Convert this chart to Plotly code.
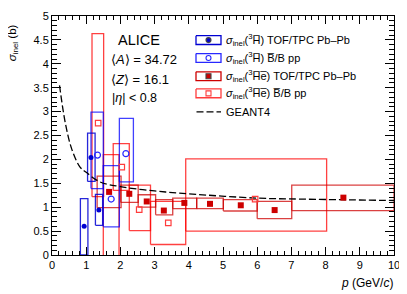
import plotly.graph_objects as go

# ---------------- data ----------------
# anti-3H, TOF/TPC Pb-Pb
h3_pbpb_p = [0.94, 1.14, 1.37]
h3_pbpb_sig = [0.60, 2.04, 0.94]
h3_pbpb_plo = [0.83, 1.04, 1.27]
h3_pbpb_phi = [1.05, 1.26, 1.48]
h3_pbpb_slo = [0.00, 1.54, 0.62]
h3_pbpb_shi = [1.18, 2.55, 1.27]

# anti-3H, Bbar/B pp
h3_pp_p = [1.33, 1.73, 2.16]
h3_pp_sig = [2.09, 1.17, 2.12]
h3_pp_plo = [1.14, 1.50, 1.97]
h3_pp_phi = [1.50, 1.97, 2.38]
h3_pp_slo = [1.39, 0.59, 1.53]
h3_pp_shi = [2.99, 1.87, 2.86]

# anti-3He, TOF/TPC Pb-Pb
he3_pbpb_p = [1.67, 2.26, 2.77, 3.27, 3.87, 4.62, 5.52, 6.51, 8.52]
he3_pbpb_sig = [1.32, 1.28, 1.12, 0.93, 1.09, 1.07, 1.04, 0.94, 1.20]
he3_pbpb_plo = [1.32, 2.01, 2.52, 3.03, 3.53, 4.23, 5.01, 6.00, 7.01]
he3_pbpb_phi = [2.02, 2.52, 3.03, 3.53, 4.23, 5.01, 6.00, 7.01, 10.0]
he3_pbpb_slo = [0.99, 1.10, 1.00, 0.84, 0.97, 0.97, 0.92, 0.76, 0.93]
he3_pbpb_shi = [1.65, 1.46, 1.26, 1.16, 1.19, 1.19, 1.16, 1.12, 1.46]

# anti-3He, Bbar/B pp
he3_pp_p = [1.35, 1.73, 2.04, 2.55, 3.40, 5.94]
he3_pp_sig = [2.76, -0.02, 1.84, 0.95, 0.67, 1.17]
he3_pp_plo = [1.17, 1.50, 1.79, 2.26, 2.88, 3.91]
he3_pp_phi = [1.51, 1.96, 2.26, 2.88, 3.91, 8.03]
he3_pp_slo = [1.22, -0.50, 1.35, 0.51, 0.22, 0.50]
he3_pp_shi = [4.63, 2.10, 2.33, 1.46, 1.12, 2.01]

# GEANT4 expectation
g4_p = [0.22, 0.39, 0.58, 0.82, 1.0, 1.4, 2.0, 3.0, 4.0, 6.0, 7.25, 10.0]
g4_sig = [3.55, 2.76, 2.21, 1.84, 1.73, 1.53, 1.43, 1.34, 1.28, 1.19, 1.17, 1.14]

x_ticks = [0, 1, 2, 3, 4, 5, 6, 7, 8, 9, 10]
y_ticks = [0, 0.5, 1, 1.5, 2, 2.5, 3, 3.5, 4, 4.5, 5]

# ---------------- styles ----------------
FONT = "Liberation Sans, Arial, Helvetica, sans-serif"
BLUE_D = "rgb(0,0,210)"
BLUE_L = "rgb(40,40,255)"
RED_D = "rgb(205,0,0)"
RED_L = "rgb(255,60,60)"
BOX_BLUE_D = "rgba(0,0,210,0.85)"
BOX_BLUE_L = "rgba(0,0,255,0.75)"
BOX_RED_D = "rgba(205,0,0,0.75)"
BOX_RED_L = "rgba(255,0,0,0.75)"

# plot frame in screen pixels (page body has an 8px margin)
PX_L, PX_R, PX_T, PX_B = 52, 394, 10, 255


def px(xs, ys):
    return (xs - PX_L) / (PX_R - PX_L), (PX_B - ys) / (PX_B - PX_T)


def rects(plo, phi, slo, shi):
    xs, ys = [], []
    for a, b, c, d in zip(plo, phi, slo, shi):
        xs += [a, b, b, a, a, None]
        ys += [c, c, d, d, c, None]
    return xs, ys


fig = go.Figure()


def add_boxes(plo, phi, slo, shi, color):
    xs, ys = rects(plo, phi, slo, shi)
    fig.add_trace(go.Scatter(x=xs, y=ys, mode="lines",
                             line=dict(color=color, width=1.3),
                             hoverinfo="skip", showlegend=False))


add_boxes(he3_pp_plo, he3_pp_phi, he3_pp_slo, he3_pp_shi, BOX_RED_L)
add_boxes(he3_pbpb_plo, he3_pbpb_phi, he3_pbpb_slo, he3_pbpb_shi, BOX_RED_D)
add_boxes(h3_pp_plo, h3_pp_phi, h3_pp_slo, h3_pp_shi, BOX_BLUE_L)
add_boxes(h3_pbpb_plo, h3_pbpb_phi, h3_pbpb_slo, h3_pbpb_shi, BOX_BLUE_D)

# GEANT4 curve
fig.add_trace(go.Scatter(x=g4_p, y=g4_sig, mode="lines",
                         line=dict(color="black", width=1.3, dash="7px,3px", shape="spline"),
                         showlegend=False))

# markers
fig.add_trace(go.Scatter(x=he3_pp_p, y=he3_pp_sig, mode="markers", cliponaxis=False,
                         marker=dict(symbol="square-open", size=5.5, color=RED_L, line=dict(width=1.2)),
                         showlegend=False))
fig.add_trace(go.Scatter(x=he3_pbpb_p, y=he3_pbpb_sig, mode="markers",
                         marker=dict(symbol="square", size=6, color=RED_D),
                         showlegend=False))
fig.add_trace(go.Scatter(x=h3_pp_p, y=h3_pp_sig, mode="markers",
                         marker=dict(symbol="circle-open", size=6, color=BLUE_L, line=dict(width=1.2)),
                         showlegend=False))
fig.add_trace(go.Scatter(x=h3_pbpb_p, y=h3_pbpb_sig, mode="markers",
                         marker=dict(symbol="circle", size=5, color=BLUE_D),
                         showlegend=False))

# ---------------- legend (drawn in pixel-like overlay axes) ----------------
leg_y = [34.7, 53.0, 71.7, 89.3]
leg_box_col = [BLUE_D, BLUE_L, RED_D, RED_L]
leg_sym = ["circle", "circle-open", "square", "square-open"]
leg_msize = [5, 5, 5, 5]
leg_text = [
    "<i>σ</i><sub>inel</sub>(<sup>3</sup>H\u0305) TOF/TPC Pb\u2013Pb",
    "<i>σ</i><sub>inel</sub>(<sup>3</sup>H\u0305) B\u0305/B pp",
    "<i>σ</i><sub>inel</sub>(<sup>3</sup>H\u0305e\u0305) TOF/TPC Pb\u2013Pb",
    "<i>σ</i><sub>inel</sub>(<sup>3</sup>H\u0305e\u0305) B\u0305/B pp",
]
for yy, col, sym, ms in zip(leg_y, leg_box_col, leg_sym, leg_msize):
    fig.add_trace(go.Scatter(x=[196, 221, 221, 196, 196],
                             y=[yy - 4.5, yy - 4.5, yy + 4.5, yy + 4.5, yy - 4.5],
                             mode="lines", line=dict(color=col, width=1.3),
                             xaxis="x2", yaxis="y2", showlegend=False, hoverinfo="skip"))
    fig.add_trace(go.Scatter(x=[208.5], y=[yy], mode="markers",
                             marker=dict(symbol=sym, size=ms, color=col, line=dict(width=1.1)),
                             xaxis="x2", yaxis="y2", showlegend=False, hoverinfo="skip"))
fig.add_trace(go.Scatter(x=[196.5, 221], y=[108.3, 108.3], mode="lines",
                         line=dict(color="black", width=1.3, dash="7px,3px"),
                         xaxis="x2", yaxis="y2", showlegend=False, hoverinfo="skip"))

annots = []


def add_text(sx, sy, text, size, xanchor="left", angle=0):
    xp, yp = px(sx, sy)
    annots.append(dict(x=xp, y=yp, xref="paper", yref="paper", text=text, showarrow=False,
                       xanchor=xanchor, yanchor="middle", textangle=angle,
                       font=dict(size=size, family=FONT, color="black")))


for yy, t in zip(leg_y, leg_text):
    add_text(224, yy, t, 11)
add_text(224, 108.3, "GEANT4", 11)

# ALICE labels
add_text(116, 35, "ALICE", 14.5)
add_text(109, 55, "\u27e8<i>A</i>\u27e9 = 34.72", 13)
add_text(109, 75, "\u27e8<i>Z</i>\u27e9 = 16.1", 13)
add_text(110, 94, "|<i>η</i>| < 0.8", 12.5)

# axis titles
add_text(13, 38, "<i>σ</i><sub>inel</sub> (b)", 11.5, xanchor="center", angle=-90)
add_text(395, 284, "<i>p</i> (GeV/<i>c</i>)", 12, xanchor="right")

axis_common = dict(showgrid=False, zeroline=False, showline=True, linecolor="black", linewidth=1,
                   mirror="allticks", ticks="inside", tickcolor="black", tickwidth=1,
                   ticklabeloverflow="allow",
                   tickfont=dict(size=11, family=FONT, color="black"))

# figure placed inside the page's 8px body margin so the visible area is 407x294
W, H, OFF = 399, 286, 8
fig.update_layout(
    width=W, height=H,
    margin=dict(l=PX_L - OFF, r=W + OFF - PX_R, t=PX_T - OFF, b=H + OFF - PX_B),
    paper_bgcolor="white", plot_bgcolor="white",
    showlegend=False,
    annotations=annots,
    xaxis=dict(range=[0, 10], tickvals=x_ticks, ticklen=8,
               minor=dict(dtick=0.2, ticks="inside", ticklen=4, tickcolor="black", tickwidth=1),
               **axis_common),
    yaxis=dict(range=[0, 5], tickvals=y_ticks, ticklen=9,
               minor=dict(dtick=0.1, ticks="inside", ticklen=5, tickcolor="black", tickwidth=1),
               **axis_common),
    xaxis2=dict(overlaying="x", range=[PX_L, PX_R], visible=False, anchor="y2"),
    yaxis2=dict(overlaying="y", range=[PX_B, PX_T], visible=False, anchor="x2"),
)

fig.write_html("out.html")
